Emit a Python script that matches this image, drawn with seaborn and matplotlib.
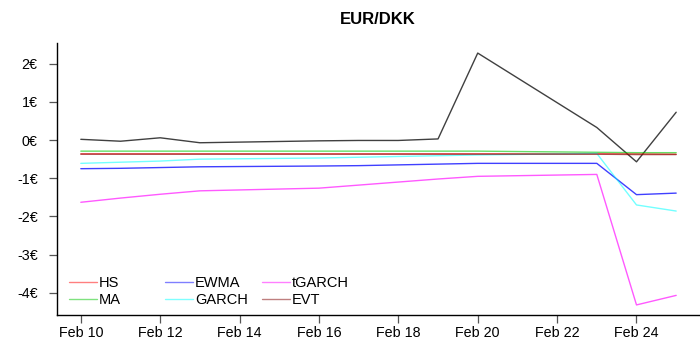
import matplotlib
matplotlib.use("Agg")
import matplotlib.pyplot as plt
import matplotlib.dates as mdates
from matplotlib.ticker import FuncFormatter, MultipleLocator
from matplotlib.lines import Line2D
from matplotlib.legend import Legend
import seaborn as sns
import pandas as pd
import numpy as np

dates = ["2015-02-10", "2015-02-11", "2015-02-12", "2015-02-13", "2015-02-16", "2015-02-17",
         "2015-02-18", "2015-02-19", "2015-02-20", "2015-02-23", "2015-02-24", "2015-02-25"]
actual = [0.02, -0.03, 0.06, -0.07, -0.02, -0.01, -0.01, 0.03, 2.28, 0.33, -0.57, 0.73]
hs = [-0.36, -0.36, -0.36, -0.36, -0.36, -0.36, -0.36, -0.36, -0.36, -0.36, -0.36, -0.37]
ma = [-0.29, -0.29, -0.29, -0.29, -0.29, -0.29, -0.29, -0.29, -0.29, -0.32, -0.33, -0.33]
ewma = [-0.75, -0.74, -0.72, -0.70, -0.68, -0.67, -0.65, -0.63, -0.61, -0.61, -1.43, -1.39]
garch = [-0.61, -0.58, -0.55, -0.50, -0.47, -0.45, -0.43, -0.41, -0.39, -0.35, -1.70, -1.86]
tgarch = [-1.63, -1.52, -1.42, -1.33, -1.26, -1.18, -1.10, -1.02, -0.95, -0.90, -4.32, -4.07]
evt = [-0.37, -0.37, -0.37, -0.37, -0.37, -0.37, -0.37, -0.37, -0.37, -0.37, -0.38, -0.38]

series_names = ["HS", "MA", "EWMA", "GARCH", "tGARCH", "EVT"]
series_vals = [hs, ma, ewma, garch, tgarch, evt]
base = {"HS": (1.0, 0.0, 0.0), "MA": (0.0, 0.78, 0.0), "EWMA": (0.0, 0.0, 1.0),
        "GARCH": (0.0, 1.0, 1.0), "tGARCH": (1.0, 0.0, 1.0), "EVT": (0.5, 0.0, 0.0)}
line_alpha = {"HS": 0.6, "MA": 0.6, "EWMA": 0.75, "GARCH": 0.55, "tGARCH": 0.65, "EVT": 0.6}
colors = {k: (*v, line_alpha[k]) for k, v in base.items()}
leg_colors = {k: (*v, 0.5) for k, v in base.items()}

d = pd.to_datetime(dates)
df = pd.concat([pd.DataFrame({"date": d, "value": v, "model": n})
                for n, v in zip(series_names, series_vals)], ignore_index=True)
df_act = pd.DataFrame({"date": d, "value": actual})

sns.set_theme(style="ticks")
plt.rcParams["font.family"] = ["Liberation Sans", "DejaVu Sans"]
plt.rcParams["text.color"] = "black"
plt.rcParams["xtick.labelcolor"] = "black"
plt.rcParams["ytick.labelcolor"] = "black"

fig = plt.figure(figsize=(7, 3.5), dpi=100)
ax = fig.add_axes([57/700, 35/350, 643/700, 272/350])

sns.lineplot(data=df_act, x="date", y="value", color="#404040", lw=1.0, ax=ax, legend=False)
sns.lineplot(data=df, x="date", y="value", hue="model", palette=colors, hue_order=series_names,
             lw=1.0, ax=ax, legend=False)

x0 = mdates.date2num(d[0]); x1 = mdates.date2num(d[-1])
pad = (x1 - x0) * 0.04
ax.set_xlim(x0 - pad, x1 + pad)
allv = np.concatenate([np.array(actual)] + [np.array(v) for v in series_vals])
ypad = (allv.max() - allv.min()) * 0.04
ax.set_ylim(allv.min() - ypad, allv.max() + ypad)

ax.xaxis.set_major_locator(mdates.DayLocator(bymonthday=[10, 12, 14, 16, 18, 20, 22, 24]))
ax.xaxis.set_major_formatter(mdates.DateFormatter("%b %d"))
ax.yaxis.set_major_locator(MultipleLocator(1))
ax.yaxis.set_major_formatter(FuncFormatter(lambda v, p: f"{v:.0f}€".replace("−", "-")))
ax.set_xlabel("")
ax.set_ylabel("")
ax.tick_params(axis="both", labelsize=10.3, length=6, width=0.9, color="#555555", direction="out")
ax.tick_params(axis="x", pad=2)
ax.tick_params(axis="y", pad=8)
for s in ["top", "right"]:
    ax.spines[s].set_visible(False)
for s in ["left", "bottom"]:
    ax.spines[s].set_color("black")
    ax.spines[s].set_linewidth(1.0)

fig.text(378/700, 1 - 20/350, "EUR/DKK", ha="center", va="center", fontsize=12, fontweight="bold")

cols = [["HS", "MA"], ["EWMA", "GARCH"], ["tGARCH", "EVT"]]
xs = [0.019, 0.168, 0.319]
for names, xx in zip(cols, xs):
    handles = [Line2D([], [], color=leg_colors[n], lw=1.0) for n in names]
    leg = Legend(ax, handles, names, loc="upper left", bbox_to_anchor=(xx, 0.143), frameon=False,
                 fontsize=10.5, handlelength=1.9, handletextpad=0.15, labelspacing=0.2,
                 borderpad=0, borderaxespad=0)
    ax.add_artist(leg)

fig.savefig("out.png", dpi=100)
